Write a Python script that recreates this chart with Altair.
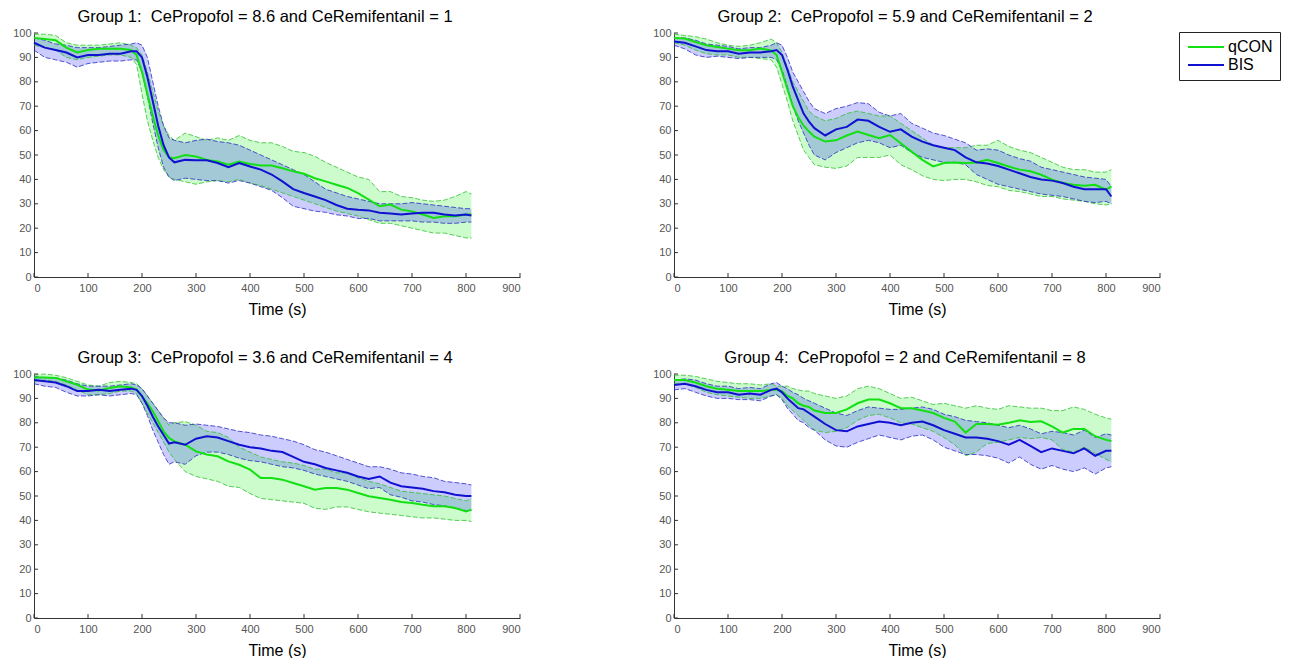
import altair as alt
import pandas as pd

# time samples (s)
T = [0, 20, 40, 60, 80, 100, 120, 140, 160, 180,
     190, 200, 210, 220, 230, 240, 250,
     260, 280, 300, 320, 340, 360, 380, 400, 420, 440, 460, 480, 500, 520,
     540, 560, 580, 600, 620, 640, 660, 680, 700, 720, 740, 760, 780, 800,
     810]

# ---- Group 1 ----
P1_Q_MEAN = [98, 97.5, 97, 94, 92, 93, 93.5, 93.5, 93.5, 93] + [91, 84, 75, 66, 58, 52, 49] + \
    [48.7, 50, 49.4, 48, 47.3, 46, 47.3, 46.3, 45.7, 45.7, 44.6, 43.3, 42.3, 40.5, 39.2, 37.8, 36.5, 34.4,
     31.7, 29, 29.7, 27.6, 26.9, 25.6, 24.2, 24.9, 24.9, 25.6] + [25.6]
P1_Q_HI = [99.5, 99.5, 99, 96, 95, 95, 95, 95.5, 96, 95] + [94, 91, 84, 76, 68, 62, 58] + \
    [56, 59, 57.5, 56, 57, 56, 58, 56, 55, 55, 53.5, 51.5, 51, 49.5, 47, 45, 43, 41,
     40, 35, 35, 33, 32.5, 31.5, 31, 31.5, 33, 35] + [34]
P1_Q_LO = [95, 94, 93, 90, 89, 90, 90.5, 91, 91, 90] + [87, 75, 64, 56, 49, 44, 41] + \
    [40, 39, 38, 39, 39.5, 39, 40, 38.5, 37.5, 36, 34.5, 33, 31.5, 30, 28.5, 27, 26, 25,
     23.5, 22, 22, 21, 20, 19, 18, 18, 17, 16] + [16]
P1_B_MEAN = [96, 94, 93, 92, 90, 91, 91, 91.5, 91.5, 92.5] + [92.5, 90, 82, 72, 62, 54, 49] + \
    [47, 48, 47.8, 47.8, 46.7, 45, 46.7, 45.3, 44, 42, 39.2, 36, 34.4, 33, 31.5, 29.5, 28, 27.6,
     27.3, 26.3, 26, 25.6, 26, 26.3, 26.3, 25.6, 25.2, 25.6] + [25.2]
P1_B_HI = [98, 97, 95.5, 95, 94, 94, 94, 94.5, 95, 95.5] + [96, 95, 90, 80, 70, 62, 57] + \
    [56, 55, 56, 56.5, 55.5, 55, 54, 52, 50, 48, 46, 44, 42, 39, 36, 34.5, 33, 32,
     31, 30, 30, 30, 30.5, 30, 29.5, 29, 28.5, 28] + [28]
P1_B_LO = [93, 90, 89, 88, 86, 87.5, 88, 88.5, 88.5, 89] + [89, 84, 74, 63, 53, 45, 41] + \
    [39.5, 40.5, 40, 39.5, 39.5, 38.5, 39.5, 38.5, 37, 35.5, 32.5, 29, 28, 27, 26.5, 25.5, 25, 24,
     24, 23, 23, 23, 23, 22.5, 22.5, 22, 22, 22.5] + [22.5]

# ---- Group 2 ----
P2_Q_MEAN = [98, 97.7, 96.3, 95, 94.3, 93.6, 92.9, 92.9, 93.6, 92.9] + [91, 84, 77, 70, 65.5, 62, 59.6] + \
    [57.5, 55.5, 56, 58, 59.6, 58.2, 56.9, 58.2, 54.8, 51.4, 48, 45.3, 46.7, 46.9, 46.7, 46.9, 48, 46.7,
     45.3, 44, 43.3, 41.9, 39.9, 38.5, 37.8, 37.4, 37.8, 35.8] + [37.1]
P2_Q_HI = [99.5, 99, 98.5, 97.5, 96, 95, 94.5, 95, 96, 97.5] + [96, 92, 86, 80, 76, 72, 68] + \
    [66, 64, 65, 67, 68, 67, 66, 66, 63, 60, 57, 54, 53, 53, 53, 54, 54, 56,
     53.5, 52, 51, 49, 47, 45, 44, 44, 43, 43] + [44]
P2_Q_LO = [96, 95, 93, 91.5, 91, 91, 90, 90, 89.5, 89] + [86, 79, 72, 64, 58, 52, 49] + \
    [46, 45, 44.5, 45.5, 49, 49, 49, 50, 46, 44, 41.5, 40, 39.5, 40, 40, 39, 37.5, 37,
     35.5, 35, 34, 33, 33, 32, 31.5, 31, 30, 29.5] + [30]
P2_B_MEAN = [96.5, 96, 94.5, 93, 92.5, 92.5, 91.5, 92, 92, 92.5] + [93, 91, 85, 78, 72.5, 67, 63.7] + \
    [61, 58, 60.5, 61.5, 64.5, 64, 61.5, 59.5, 60.5, 57.5, 55.5, 54, 53, 52, 49, 47, 46.5, 45.5,
     44, 42.5, 41, 40, 39.5, 38.5, 37, 36, 36, 36] + [33]
P2_B_HI = [98, 98, 97, 95.5, 95, 94.5, 93.5, 94, 94, 95] + [96, 95, 90, 84, 80, 76, 72] + \
    [69, 67, 69, 70, 71.5, 71, 67.5, 66, 67, 63, 61, 59, 58, 56.5, 55, 52, 52.5, 52,
     50, 48.5, 47.5, 45, 44, 43, 42, 41, 40.5, 40] + [37]
P2_B_LO = [95, 93.5, 91, 90, 90.5, 90, 89.5, 90, 90, 90] + [89, 85, 78, 70, 64, 59, 54] + \
    [50, 48, 51, 53, 55, 56, 55, 53, 54, 51, 49, 48, 47, 47, 46, 42, 40, 38,
     37, 36, 35, 34, 33.5, 33, 32, 31, 30.5, 31] + [30]

# ---- Group 3 ----
P3_Q_MEAN = [98.6, 98.6, 98.4, 97, 95.6, 93.6, 93.2, 94.3, 95, 94.5] + [93.6, 90.8, 88, 84.7, 80.6, 76.5, 73.8] + \
    [72.4, 71, 68.3, 67, 66.3, 64.2, 62.8, 60.8, 57.4, 57.4, 56.7, 55.3, 54, 52.6, 53.3, 53.3, 52.6, 51.2,
     49.9, 49.2, 48.5, 47.5, 47.1, 46.4, 45.8, 45.8, 45.1, 43.7] + [44.4]
P3_Q_HI = [99.5, 100, 99.5, 98.5, 97, 95.5, 95, 96.5, 97, 96.5] + [96, 94, 91, 88, 85, 82, 79] + \
    [80, 80.5, 79, 76.5, 76, 74, 70, 68, 66, 65, 64, 63.5, 62.5, 61, 61, 59.5, 59.5, 57.5,
     56, 55, 53.5, 52, 51.5, 51, 50.5, 50, 49, 48] + [49]
P3_Q_LO = [97, 97.5, 97, 95.5, 93.5, 91.5, 91.5, 92, 93, 93] + [92, 88, 84, 80, 76, 72, 68] + \
    [65, 60, 58, 57, 56, 54, 53.5, 51, 49, 48.5, 48, 47.5, 47, 45, 44.5, 45.5, 45.5, 44.5,
     43.5, 43, 42.5, 42, 41.5, 41, 41, 40.5, 40, 40] + [39.5]
P3_B_MEAN = [97.5, 97, 96.5, 95, 93, 93, 93.5, 93, 93.5, 94] + [93.5, 91, 87, 82.5, 78.5, 75, 71.5] + \
    [72, 71, 73.5, 74.5, 74, 72.5, 71, 70, 69.5, 68.5, 68, 66, 64, 63, 61.5, 60.5, 59.5, 58,
     57, 58, 55.5, 54, 53.5, 53, 52, 51.5, 50.5, 50] + [50]
P3_B_HI = [99, 98.5, 98.5, 97.5, 96, 95, 95, 95, 95.5, 96] + [95.5, 94, 91, 88, 85, 82, 80] + \
    [80, 79, 79.5, 79, 78.5, 77.5, 76.5, 76, 75, 74.5, 73.5, 72.5, 71, 69, 68, 66.5, 65, 63.5,
     62, 62, 61, 59.5, 59, 58, 57.5, 56, 55.5, 55] + [54.5]
P3_B_LO = [96, 95, 94.5, 92.5, 91, 91, 91.5, 91, 91.5, 92] + [91.5, 88, 83, 77, 72, 67, 63] + \
    [64, 63, 66.5, 68, 68, 67, 65.5, 64.5, 64, 63, 62, 61.5, 60.5, 59, 58, 57, 56, 54.5,
     53, 53.5, 50.5, 49.5, 48, 47.5, 46.5, 46, 45, 44] + [44]

# ---- Group 4 ----
P4_Q_MEAN = [97.5, 97.5, 96.5, 95, 94, 93.5, 93, 93, 93, 93.5] + [93.5, 93, 91, 90, 88, 87, 86.5] + \
    [85, 84, 84, 85.5, 88, 89.5, 89.5, 88, 86, 86, 85, 84, 82, 80.5, 76, 79.5, 79.5, 79.2,
     80, 81, 80.3, 80.6, 78.5, 76, 77.5, 77.5, 74.5, 73] + [72.5]
P4_Q_HI = [99.5, 99.5, 99, 98, 97, 96.5, 96, 96, 95.5, 96] + [95, 95, 95, 94, 93.5, 93, 93] + \
    [92, 91, 90, 91, 94, 95, 94, 92, 90, 90.5, 89, 87.5, 88, 87, 86, 87, 86, 85.5,
     87, 86.5, 86, 86, 85, 85, 86.5, 85.5, 83.5, 82] + [81.5]
P4_Q_LO = [96, 96, 94.5, 92.5, 91.5, 91, 90.5, 90, 90, 91] + [91.5, 90, 87, 85, 83, 81, 79] + \
    [77, 76, 76.5, 78, 81, 83, 83.5, 82, 80, 79.5, 78, 76.5, 74, 71, 66.5, 68, 71.5, 72,
     73, 74, 73.5, 74, 73, 69, 68, 70, 67.5, 65] + [64]
P4_B_MEAN = [95.5, 96, 95, 93.5, 92.5, 92.5, 91.5, 92, 91.5, 93.5] + [94, 92.5, 90, 88, 86, 85.5, 84] + \
    [82.5, 79.5, 77, 76.5, 78.5, 79.5, 80.5, 80, 79, 80, 80.5, 79, 77, 75.5, 74, 74, 73.5, 72.5,
     71, 73, 70.5, 68, 69.5, 68.5, 67.5, 69.5, 66.5, 68.5] + [68.5]
P4_B_HI = [97.5, 98, 97.5, 96, 95, 95, 94, 94.5, 94, 96] + [96.5, 95, 94, 92.5, 91.5, 90, 89] + \
    [88, 86, 84, 83, 85, 86.5, 86, 85.5, 85.5, 86, 86.5, 85.5, 83.5, 82.5, 81, 80.5, 80, 79,
     78, 79, 77.5, 75.5, 76.5, 76, 75, 77, 74, 75.5] + [75]
P4_B_LO = [93.5, 94, 92.5, 91, 90, 90, 89.5, 89.5, 89, 91] + [91.5, 89.5, 86, 83.5, 81, 80, 78] + \
    [77, 73, 70.5, 70, 72, 73.5, 75, 74, 73, 74.5, 75, 73, 70, 68.5, 67, 67, 66.5, 65.5,
     63.5, 66, 63, 61, 62.5, 61, 60, 61.5, 59, 61.5] + [62]

TITLES = [
    "Group 1:\u00a0 CePropofol = 8.6 and CeRemifentanil = 1",
    "Group 2:\u00a0 CePropofol = 5.9 and CeRemifentanil = 2",
    "Group 3:\u00a0 CePropofol = 3.6 and CeRemifentanil = 4",
    "Group 4:\u00a0 CePropofol = 2 and CeRemifentanil = 8",
]
SERIES = ["qCON", "BIS"]
X_TICKS = list(range(0, 1000, 100))
Y_TICKS = list(range(0, 110, 10))

PANELS = [
    ((P1_Q_MEAN, P1_Q_HI, P1_Q_LO), (P1_B_MEAN, P1_B_HI, P1_B_LO)),
    ((P2_Q_MEAN, P2_Q_HI, P2_Q_LO), (P2_B_MEAN, P2_B_HI, P2_B_LO)),
    ((P3_Q_MEAN, P3_Q_HI, P3_Q_LO), (P3_B_MEAN, P3_B_HI, P3_B_LO)),
    ((P4_Q_MEAN, P4_Q_HI, P4_Q_LO), (P4_B_MEAN, P4_B_HI, P4_B_LO)),
]

W, H = 486, 244
FONT = "Liberation Sans"
AXIS_COLOR = "#333333"
LABEL_COLOR = "#555555"
LINE_COLORS = ["#12e012", "#1010d0"]
BAND_COLORS = ["#00ee00", "#0000ff"]
EDGE_COLORS = ["#30c030", "#2a2ac0"]
TICK_LEN = 4

xs = alt.Scale(domain=[0, 900], nice=False, zero=False)
ys = alt.Scale(domain=[0, 100], nice=False)
x_axis = alt.Axis(values=X_TICKS, title="Time (s)", labelPadding=5, titlePadding=8,
                  titleFontSize=16, titleFontWeight="normal", titleColor="black", titleFont=FONT)
y_axis = alt.Axis(values=Y_TICKS, title=None, labelPadding=3)
line_scale = alt.Scale(domain=SERIES, range=LINE_COLORS)


def panel(idx, with_legend):
    rows = []
    for s, (m, hi, lo) in zip(SERIES, PANELS[idx]):
        for t, a, b, c in zip(T, m, hi, lo):
            rows.append({"series": s, "t": t, "mean": a, "hi": b, "lo": c})
    df = pd.DataFrame(rows)
    base = alt.Chart(df)
    X = alt.X("t:Q", scale=xs, axis=x_axis)

    layers = []
    for s, bc in zip(SERIES, BAND_COLORS):
        layers.append(
            base.transform_filter(alt.datum.series == s).mark_area(opacity=0.2, color=bc).encode(
                x=X, y=alt.Y("lo:Q", scale=ys, axis=y_axis), y2="hi:Q"))
    for s, ec in zip(SERIES, EDGE_COLORS):
        for fld in ("hi", "lo"):
            layers.append(
                base.transform_filter(alt.datum.series == s).mark_line(
                    strokeDash=[5, 2], strokeWidth=0.8, color=ec).encode(
                    x=X, y=alt.Y(f"{fld}:Q", scale=ys, axis=y_axis)))
    if with_legend:
        leg = alt.Legend(orient="none", legendX=505, legendY=-1, title=None)
    else:
        leg = None
    layers.append(base.mark_line(strokeWidth=2).encode(
        x=X,
        y=alt.Y("mean:Q", scale=ys, axis=y_axis),
        color=alt.Color("series:N", scale=line_scale, title=None, legend=leg),
    ))
    layers.append(alt.Chart(pd.DataFrame({"t": X_TICKS})).mark_rule(color=AXIS_COLOR, strokeWidth=1).encode(
        x=alt.X("t:Q", scale=xs, axis=x_axis),
        y=alt.value(H),
        y2=alt.value(H - TICK_LEN),
    ))
    layers.append(alt.Chart(pd.DataFrame({"mean": Y_TICKS})).mark_rule(color=AXIS_COLOR, strokeWidth=1).encode(
        y=alt.Y("mean:Q", scale=ys, axis=y_axis),
        x=alt.value(0),
        x2=alt.value(TICK_LEN),
    ))
    return alt.layer(*layers).properties(
        width=W, height=H,
        title=alt.TitleParams(TITLES[idx], fontSize=16.5, font=FONT, fontWeight="normal",
                              color="black", offset=2, dx=-12),
    )


chart = alt.concat(
    panel(0, False), panel(1, True), panel(2, False), panel(3, False),
    columns=2,
    spacing=alt.RowColnumber(row=97, column=154),
    bounds="flush",
).resolve_legend(
    color="independent",
).properties(
    padding={"left": 4, "top": 0, "right": 2, "bottom": 0},
).configure_axis(
    domainColor=AXIS_COLOR, domainWidth=1, labelColor=LABEL_COLOR, labelFont=FONT,
    labelFontSize=11, grid=False, ticks=False, tickSize=0,
).configure_view(
    stroke=None,
).configure_legend(
    strokeColor="#222222", fillColor="white", padding=7, symbolType="M-3,0H3",
    symbolSize=144, symbolStrokeWidth=2, labelFontSize=16, labelFont=FONT,
    labelColor="black", rowPadding=2, symbolOffset=12, labelOffset=14, cornerRadius=0,
)

chart.save("out.html", embed_options={"renderer": "svg", "actions": False})
